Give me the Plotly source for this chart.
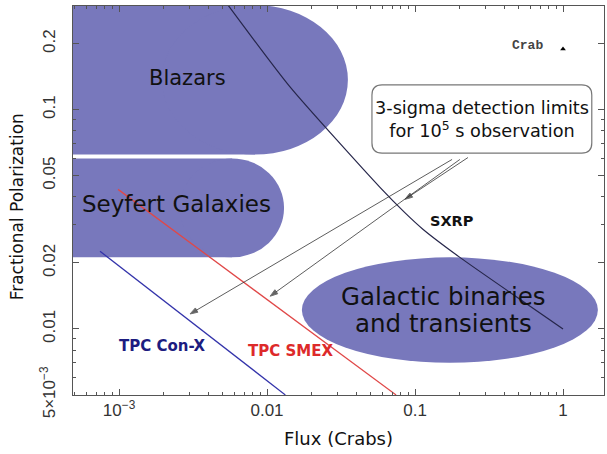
import numpy as np
import plotly.graph_objects as go

# ---- data ----
sxrp_flux = [0.00545, 0.0143, 0.058, 0.085, 0.113, 0.201, 1.0]
sxrp_pol = [0.30, 0.127, 0.0442, 0.0340, 0.0285, 0.0212, 0.0100]
conx_flux = [7.44e-4, 0.0133]
conx_pol = [0.0226, 0.0050]
smex_flux = [9.85e-4, 0.0745]
smex_pol = [0.0433, 0.0050]
crab_flux = [1.0]
crab_pol = [0.189]

# source regions: (flux extent, polarization extent)
blazar_rect = ([2e-4, 0.0083], [0.0624, 0.5])
blazar_cap = ([0.00195, 0.0352], [0.0624, 0.30])
seyfert_rect = ([2e-4, 0.00581], [0.0212, 0.0599])
seyfert_cap = ([0.00258, 0.01303], [0.0212, 0.0599])
galactic_ell = ([0.0172, 1.72], [0.0070, 0.0212])

# arrow tails -> heads (flux, pol)
arrow_tails = [(0.178, 0.0593), (0.201, 0.0593), (0.228, 0.0605)]
arrow_heads = [(0.00302, 0.0117), (0.0105, 0.0141), (0.0855, 0.039)]

x_ticks = [0.001, 0.01, 0.1, 1]
x_ticktext = ["10<sup>−3</sup>", "0.01", "0.1", "1"]
y_ticks = [0.005, 0.01, 0.02, 0.05, 0.1, 0.2]
y_ticktext = ["5×10<sup>−3</sup>", "0.01", "0.02", "0.05", "0.1", "0.2"]

FILL = "#7878bc"
fig = go.Figure()

fig.add_trace(go.Scatter(x=sxrp_flux, y=sxrp_pol, mode="lines",
                         line=dict(color="#26264a", width=1.2, shape="spline", smoothing=0.6),
                         showlegend=False))
fig.add_trace(go.Scatter(x=conx_flux, y=conx_pol, mode="lines",
                         line=dict(color="#3333aa", width=1.3), showlegend=False))
fig.add_trace(go.Scatter(x=smex_flux, y=smex_pol, mode="lines",
                         line=dict(color="#e04848", width=1.3), showlegend=False))
fig.add_trace(go.Scatter(x=crab_flux, y=crab_pol, mode="markers",
                         marker=dict(symbol="triangle-up", size=5, color="black"),
                         showlegend=False))
for (tx, ty), (hx, hy) in zip(arrow_tails, arrow_heads):
    fig.add_trace(go.Scatter(x=[tx, hx], y=[ty, hy], mode="lines+markers",
                             line=dict(color="#333333", width=0.8),
                             marker=dict(symbol=["circle", "arrow"], size=[0, 8],
                                         angleref="previous", color="#222222"),
                             showlegend=False))

shapes = []
for (xs, ys) in [blazar_rect, seyfert_rect]:
    shapes.append(dict(type="rect", xref="x", yref="y", x0=xs[0], x1=xs[1], y0=ys[0], y1=ys[1],
                       fillcolor=FILL, line=dict(width=0), layer="below"))
for (xs, ys) in [blazar_cap, seyfert_cap, galactic_ell]:
    shapes.append(dict(type="circle", xref="x", yref="y", x0=xs[0], x1=xs[1], y0=ys[0], y1=ys[1],
                       fillcolor=FILL, line=dict(width=0), layer="below"))

# rounded box for the note (paper coords)
bx0, bx1, by0, by1 = 0.563, 0.977, 0.622, 0.797
rx, ry = 0.019, 0.026
path = (f"M {bx0+rx},{by0} L {bx1-rx},{by0} Q {bx1},{by0} {bx1},{by0+ry} "
        f"L {bx1},{by1-ry} Q {bx1},{by1} {bx1-rx},{by1} L {bx0+rx},{by1} "
        f"Q {bx0},{by1} {bx0},{by1-ry} L {bx0},{by0+ry} Q {bx0},{by0} {bx0+rx},{by0} Z")
shapes.append(dict(type="path", xref="paper", yref="paper", path=path,
                   fillcolor="white", line=dict(color="#777777", width=1.2), layer="above"))

L = np.log10
def tf(size, color="#111111", family="DejaVu Sans"):
    return dict(family=family, size=size, color=color)

ann = [
    dict(x=L(0.00292), y=L(0.1396), text="Blazars", showarrow=False, font=tf(21)),
    dict(x=L(0.00243), y=L(0.037), text="Seyfert Galaxies", showarrow=False, font=tf(23)),
    dict(x=L(0.1560), y=L(0.0141), text="Galactic binaries", showarrow=False, font=tf(24.5)),
    dict(x=L(0.1560), y=L(0.01054), text="and transients", showarrow=False, font=tf(24.5)),
    dict(x=L(0.178), y=L(0.031), text="<b>SXRP</b>", showarrow=False, font=tf(14.5)),
    dict(x=L(0.00195), y=L(0.00837), text="<b>TPC Con-X</b>", showarrow=False,
         font=tf(15, "#1c1c80")),
    dict(x=L(0.0145), y=L(0.00794), text="<b>TPC SMEX</b>", showarrow=False,
         font=tf(15, "#dd2a2a")),
    dict(x=L(0.58), y=L(0.197), text="<b>Crab</b>", showarrow=False,
         font=tf(13, "#444444", "Liberation Mono")),
    dict(xref="paper", yref="paper", x=(bx0 + bx1) / 2, y=(by0 + by1) / 2,
         xanchor="center", yanchor="middle",
         text="3-sigma detection limits<br>for 10<sup>5</sup> s observation", showarrow=False,
         font=tf(17.7)),
    dict(xref="paper", yref="paper", x=-0.105, y=0.483, xanchor="center", yanchor="middle",
         text="Fractional Polarization", textangle=-90, showarrow=False, font=tf(17)),
]

axis_common = dict(type="log", showgrid=False, zeroline=False, showline=True,
                   linecolor="#555555", linewidth=1, mirror="allticks",
                   ticks="inside", ticklen=6, tickcolor="#555555", automargin=False,
                   tickfont=dict(family="Liberation Sans", size=17, color="#333333"))

x_minor = [k * 10.0 ** e for e in range(-4, 1) for k in range(2, 10)]
y_minor = [k * 10.0 ** e for e in range(-3, 0) for k in range(2, 10)]

fig.update_layout(
    width=607, height=454,
    margin=dict(l=73, r=3, t=6, b=59),
    paper_bgcolor="white", plot_bgcolor="white",
    shapes=shapes, annotations=ann,
    xaxis=dict(**axis_common, range=[-3.311, 0.277], tickvals=x_ticks, ticktext=x_ticktext,
               minor=dict(ticks="inside", ticklen=3, tickcolor="#555555", tickvals=x_minor),
               title=dict(text="Flux (Crabs)", standoff=12,
                          font=dict(family="DejaVu Sans", size=18, color="#111111"))),
    yaxis=dict(**axis_common, range=[-2.3015, -0.527], tickvals=y_ticks, ticktext=y_ticktext,
               tickangle=-90, ticklabelstandoff=10,
               minor=dict(ticks="inside", ticklen=3, tickcolor="#555555", tickvals=y_minor)),
)

fig.write_html("out.html", config={"displayModeBar": False},
               post_script="document.body.style.margin='0';document.body.style.overflow='hidden';")
